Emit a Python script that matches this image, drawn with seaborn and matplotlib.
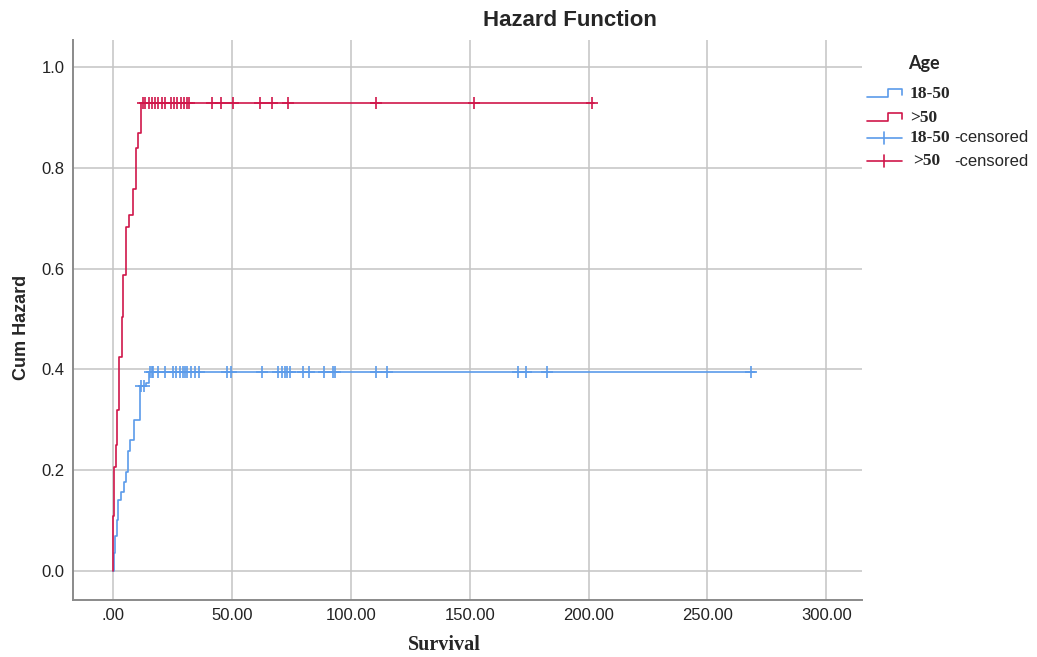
import numpy as np
import pandas as pd
import matplotlib
matplotlib.use("Agg")
import matplotlib.pyplot as plt
import seaborn as sns
from matplotlib.lines import Line2D

# cumulative hazard step points (time, cum hazard) per age group
young_time = [0.0, 0.5, 1.0, 1.5, 2.2, 3.5, 4.5, 5.6, 6.5, 7.3, 9.0, 11.5, 13.8, 15.3, 270.0]
young_haz = [0.0, 0.036, 0.07, 0.101, 0.141, 0.157, 0.177, 0.197, 0.237, 0.260, 0.300, 0.366, 0.373, 0.394, 0.394]
old_time = [0.0, 0.2, 0.6, 1.1, 1.5, 2.5, 3.6, 4.3, 5.3, 6.7, 8.5, 9.5, 10.7, 11.6, 202.5]
old_haz = [0.0, 0.108, 0.207, 0.25, 0.319, 0.425, 0.504, 0.587, 0.683, 0.706, 0.758, 0.839, 0.869, 0.929, 0.929]

# censored times
young_cens = [12.0, 13.2, 15.6, 16.3, 17.0, 19.1, 21.9, 25.1, 26.5, 28.2, 29.3, 30.3, 31.3, 32.7,
              34.5, 36.3, 47.8, 49.7, 62.8, 69.6, 71.0, 72.4, 73.4, 74.5, 80.1, 82.6, 88.8, 92.7,
              93.4, 110.6, 115.4, 170.5, 173.6, 182.7, 268.4]
old_cens = [12.5, 13.5, 15.0, 16.3, 17.5, 19.0, 20.5, 22.0, 24.5, 25.5, 27.0, 28.5, 30.0, 31.0,
            32.0, 41.5, 45.5, 50.5, 62.0, 67.0, 73.5, 110.5, 152.0, 201.5]

groups = ["18-50", ">50"]
colors = {"18-50": "#5b9bea", ">50": "#d0164a"}
x_ticks = [0, 50, 100, 150, 200, 250, 300]
x_labels = [".00", "50.00", "100.00", "150.00", "200.00", "250.00", "300.00"]
y_ticks = [0.0, 0.2, 0.4, 0.6, 0.8, 1.0]


def step_value(times, haz, t):
    idx = np.searchsorted(times, t, side="right") - 1
    return np.asarray(haz)[idx]


curves = pd.concat([
    pd.DataFrame({"time": young_time, "haz": young_haz, "Age": "18-50"}),
    pd.DataFrame({"time": old_time, "haz": old_haz, "Age": ">50"}),
])
cens = pd.concat([
    pd.DataFrame({"time": young_cens, "haz": step_value(young_time, young_haz, young_cens), "Age": "18-50"}),
    pd.DataFrame({"time": old_cens, "haz": step_value(old_time, old_haz, old_cens), "Age": ">50"}),
])

sns.set_style("white")
W, H = 1037, 657
fig = plt.figure(figsize=(W / 100, H / 100), dpi=100)
ax = fig.add_axes([73 / W, 1 - 600 / H, (862 - 73) / W, (600 - 40) / H])

for g in groups:
    sub = curves[curves["Age"] == g]
    sns.lineplot(data=sub, x="time", y="haz", color=colors[g], estimator=None, sort=False,
                 drawstyle="steps-post", linewidth=1.2, ax=ax, zorder=3)
    subc = cens[cens["Age"] == g]
    sns.scatterplot(data=subc, x="time", y="haz", color=colors[g], marker="+", s=80,
                    linewidth=1.2, ax=ax, zorder=4)

ax.set_xlim(-16.8, 315)
ax.set_ylim(-0.058, 1.054)
ax.set_xticks(x_ticks)
ax.set_xticklabels(x_labels)
ax.set_yticks(y_ticks)
ax.set_yticklabels([f"{v:.1f}" for v in y_ticks])
ax.grid(True, color="#c4c4c4", linewidth=1.1)
ax.set_axisbelow(True)
ax.tick_params(length=0, labelsize=12, pad=6, colors="#222222")
for lab in ax.get_xticklabels() + ax.get_yticklabels():
    lab.set_family(["Liberation Sans Narrow", "Liberation Sans"])
for s in ["top", "right"]:
    ax.spines[s].set_visible(False)
for s in ["left", "bottom"]:
    ax.spines[s].set_color("#8a8a8a")
    ax.spines[s].set_linewidth(1.4)
ax.set_xlabel("")
ax.set_ylabel("")

# titles and axis labels
fig.text(570 / W, 1 - 20 / H, "Hazard Function", ha="center", va="center",
         fontsize=16, fontweight="bold", family="Liberation Sans")
fig.text(444 / W, 1 - 645 / H, "Survival", ha="center", va="center",
         fontsize=14.5, fontweight="bold", family="Liberation Serif")
fig.text(22 / W, 1 - 327 / H, "Cum Hazard", ha="center", va="center", rotation=90,
         fontsize=13, fontweight="bold", family="Liberation Sans")

# legend
def fx(px):
    return px / W


def fy(py):
    return 1 - py / H


fig.text(fx(908), fy(63), "Age", ha="left", va="center", fontsize=13, fontweight="bold", family="Lato")
rows = [(93, "18-50", False), (117, ">50", False), (138, "18-50", True), (161, ">50", True)]
for py, g, censored in rows:
    c = colors[g]
    if censored:
        fig.add_artist(Line2D([fx(867), fx(902)], [fy(py), fy(py)], color=c, lw=1.2,
                              transform=fig.transFigure))
        fig.add_artist(Line2D([fx(884), fx(884)], [fy(py - 6), fy(py + 6)], color=c, lw=1.2,
                              transform=fig.transFigure))
        xl = 910 if g == "18-50" else 913
        fig.text(fx(xl), fy(py), g, ha="left", va="center", fontsize=12.5, fontweight="bold",
                 family="Liberation Serif")
        fig.text(fx(954), fy(py), "-censored", ha="left", va="center", fontsize=12,
                 family="Liberation Sans")
    else:
        fig.add_artist(Line2D([fx(867), fx(888), fx(888), fx(902), fx(902)],
                              [fy(py + 4), fy(py + 4), fy(py - 4), fy(py - 4), fy(py + 2)],
                              color=c, lw=1.2, transform=fig.transFigure))
        fig.text(fx(910), fy(py + 1), g, ha="left", va="center", fontsize=12.5, fontweight="bold",
                 family="Liberation Serif")

fig.savefig("out.png", dpi=100)
